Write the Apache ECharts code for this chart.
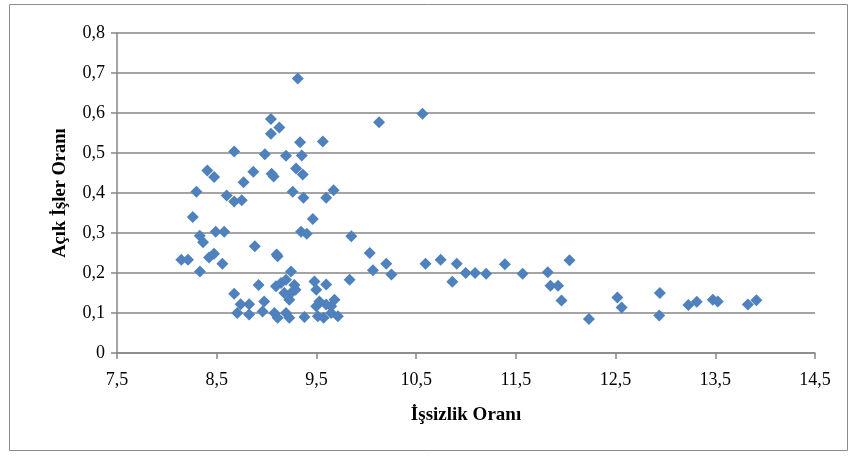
<!DOCTYPE html>
<html>
<head>
<meta charset="utf-8">
<script src="https://cdn.jsdelivr.net/npm/echarts@6/dist/echarts.min.js"></script>
<style>
html,body{margin:0;padding:0;background:#fff;}
#chart{width:855px;height:457px;}
</style>
</head>
<body>
<div id="chart"></div>
<script>
// Unemployment rate (İşsizlik Oranı)
var unemployment = [
  9.313, 10.564, 10.128, 9.044, 9.128, 9.044, 9.336, 9.564,
  8.675, 8.983, 9.195, 9.353, 8.406, 8.474, 8.867, 8.769,
  9.051, 9.071, 9.296, 9.363, 8.296, 8.600, 8.675, 8.751,
  9.262, 9.370, 9.598, 9.672, 8.260, 9.464, 8.330, 8.363,
  8.490, 8.575, 9.346, 9.403, 9.850, 8.882, 8.145, 8.212,
  8.423, 8.473, 8.557, 8.332, 9.101,
  8.675, 8.920, 8.740, 8.825, 8.706, 8.825, 8.976, 8.960,
  9.078, 9.111, 9.094, 9.145, 9.195, 9.245, 9.279, 9.290,
  9.245, 9.228, 9.195, 9.228, 9.380, 9.480, 9.498, 9.598,
  9.530, 9.498, 9.648, 9.681, 9.514, 9.572, 9.648, 9.715,
  9.111, 9.833, 9.178, 9.598,
  10.035, 10.067, 10.200, 10.252, 10.594, 10.746, 10.907, 10.863,
  10.997, 11.091, 11.202, 11.390, 11.568, 11.820, 12.038, 11.847,
  11.923, 11.958, 12.233, 12.518, 12.561, 12.944, 12.938, 13.230,
  13.314, 13.475, 13.525, 13.827, 13.912
];
// Job vacancy rate (Açık İşler Oranı)
var vacancy = [
  0.686, 0.598, 0.577, 0.585, 0.564, 0.548, 0.527, 0.529,
  0.504, 0.497, 0.493, 0.494, 0.456, 0.440, 0.453, 0.427,
  0.448, 0.441, 0.461, 0.446, 0.403, 0.394, 0.379, 0.382,
  0.403, 0.388, 0.388, 0.407, 0.340, 0.335, 0.293, 0.277,
  0.303, 0.303, 0.303, 0.298, 0.292, 0.267, 0.233, 0.233,
  0.239, 0.248, 0.223, 0.204, 0.246,
  0.148, 0.170, 0.122, 0.122, 0.100, 0.096, 0.129, 0.104,
  0.100, 0.088, 0.167, 0.175, 0.183, 0.204, 0.170, 0.158,
  0.150, 0.133, 0.100, 0.088, 0.090, 0.179, 0.158, 0.171,
  0.129, 0.117, 0.117, 0.133, 0.092, 0.088, 0.100, 0.092,
  0.242, 0.183, 0.150, 0.121,
  0.250, 0.207, 0.223, 0.196, 0.223, 0.233, 0.223, 0.178,
  0.200, 0.200, 0.198, 0.222, 0.198, 0.202, 0.232, 0.168,
  0.168, 0.131, 0.085, 0.139, 0.114, 0.150, 0.094, 0.120,
  0.128, 0.133, 0.129, 0.121, 0.132
];
var xTicks = [7.5, 8.5, 9.5, 10.5, 11.5, 12.5, 13.5, 14.5];
var xTitle = 'İşsizlik Oranı';
var yTitle = 'Açık İşler Oranı';

var points = unemployment.map(function (x, i) { return [x, vacancy[i]]; });
function comma(v) { return String(Math.round(v * 100) / 100).replace('.', ','); }
var FONT = '"Liberation Serif", "DejaVu Serif", serif';

var chart = echarts.init(document.getElementById('chart'), null, {renderer: 'canvas'});
chart.setOption({
  animation: false,
  backgroundColor: '#ffffff',
  grid: {left: 117, right: 40, top: 33, bottom: 104, containLabel: false},
  graphic: [{
    type: 'rect', shape: {x: 9.5, y: 4.5, width: 838, height: 446},
    style: {fill: 'none', stroke: '#8c8c8c', lineWidth: 1}
  }],
  xAxis: {
    type: 'value', min: 7.5, max: 14.5,
    name: xTitle, nameLocation: 'middle', nameGap: 53,
    nameTextStyle: {fontFamily: FONT, fontSize: 19, fontWeight: 'bold', color: '#000'},
    axisLine: {show: true, onZero: false, lineStyle: {color: '#868686', width: 1.5}},
    axisTick: {show: true, customValues: xTicks, length: 6, inside: false, lineStyle: {color: '#868686', width: 1.5}},
    axisLabel: {customValues: xTicks, formatter: comma, margin: 18, fontFamily: FONT, fontSize: 18, color: '#000'},
    splitLine: {show: false}
  },
  yAxis: {
    type: 'value', min: 0, max: 0.8, interval: 0.1,
    name: yTitle, nameLocation: 'middle', nameGap: 47, nameRotate: 90,
    nameTextStyle: {fontFamily: FONT, fontSize: 18.5, fontWeight: 'bold', color: '#000'},
    axisLine: {show: true, lineStyle: {color: '#868686', width: 1.5}},
    axisTick: {show: true, length: 6, lineStyle: {color: '#868686', width: 1.5}},
    axisLabel: {formatter: comma, margin: 12, fontFamily: FONT, fontSize: 18, color: '#000'},
    splitLine: {show: true, lineStyle: {color: '#868686', width: 1.5}}
  },
  series: [{
    type: 'scatter',
    data: points,
    symbol: 'diamond',
    symbolSize: 12,
    itemStyle: {color: '#4F81BD', opacity: 1}
  }]
});
</script>
</body>
</html>
